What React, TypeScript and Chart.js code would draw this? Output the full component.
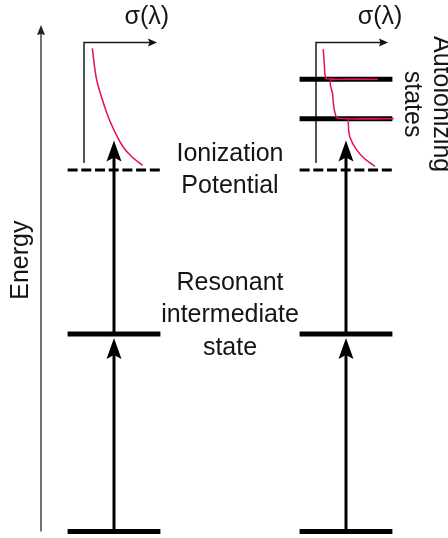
import { useEffect, useRef } from "react";
import { Chart, registerables } from "chart.js";

Chart.register(...registerables);

// ---------- data ----------
// Energy levels in arbitrary energy units (ground state = 0)
const groundEnergy = 0;
const resonantEnergy = 5.0;
const ionizationEnergy = 9.15;
const autoionizingEnergies = [10.45, 11.45];
// energy reached after the second photon
const ionizingPhotonEnergy = 9.9;
// top of the energy axis
const energyAxisTop = 12.82;

// the two excitation schemes: 0 = direct ionization, 1 = via autoionizing states
const schemeColumns = [0, 1];

// energy span of the σ(λ) inset axes
const sigmaAxisEnergy = [9.33, 12.38];

// direct photoionization cross section (σ normalised to the inset axis length)
const directSigma = [0.114, 0.174, 0.311, 0.411, 0.534, 0.658, 0.804];
const directEnergy = [12.23, 11.43, 10.6, 10.16, 9.74, 9.48, 9.27];

// cross section with autoionizing resonances
const resonanceSigma = [
  0.1, 0.115, 0.125, 0.15, 0.85, 0.21, 0.2, 0.23, 0.24, 0.26, 0.3, 1.07,
  0.46, 0.45, 0.47, 0.565, 0.68, 0.82,
];
const resonanceEnergy = [
  12.21, 11.85, 11.56, 11.46, 11.45, 11.44, 11.3, 11.09, 10.85, 10.63,
  10.46, 10.45, 10.44, 10.29, 9.99, 9.66, 9.43, 9.24,
];

// text
const sigmaLabel = ["σ(λ)"];
const ionizationLabel = ["Ionization", "Potential"];
const resonantLabel = ["Resonant", "intermediate", "state"];
const energyLabel = ["Energy"];
const autoionizingLabel = ["Autoionizing", "states"];

// ---------- layout & style ----------
const COLUMN_RANGE = { min: -0.4914, max: 1.4397 };
const ENERGY_RANGE = { min: -0.1646, max: 13.4557 };
const SIGMA_LEFT_RANGE = { min: -1.1507, max: 4.9863 };
const SIGMA_RIGHT_RANGE = { min: -4.3889, max: 1.8333 };
const LEVEL_HALF_WIDTH = 0.2;
const ENERGY_AXIS_COLUMN = -0.3147;

const FONT = '25px "Liberation Sans", Arial, sans-serif';
const TEXT_COLOR = "#151515";
const CURVE_COLOR = "#e3134f";

const bigHead = { length: 21, halfWidth: 7.5, notch: 4, inset: 0, color: "#000" };
const smallHead = { length: 9, halfWidth: 4, notch: 1.5, inset: 0, color: "#111" };

const labels = [
  { lines: sigmaLabel, scale: "sigL", x: 0.86, y: 13.03, rotation: 0, lineHeight: 32 },
  { lines: sigmaLabel, scale: "sigR", x: 0.89, y: 13.03, rotation: 0, lineHeight: 32 },
  { lines: ionizationLabel, scale: "x", x: 0.5, y: ionizationEnergy, rotation: 0, lineHeight: 32 },
  { lines: resonantLabel, scale: "x", x: 0.5, y: resonantEnergy + 0.47, rotation: 0, lineHeight: 32.5 },
  { lines: energyLabel, scale: "x", x: -0.401, y: 6.87, rotation: -90, lineHeight: 32 },
  { lines: autoionizingLabel, scale: "x", x: 1.347, y: 10.82, rotation: 90, lineHeight: 29 },
];

function levelLine(col: number, energy: number, extra: any = {}) {
  return {
    data: [
      { x: col - LEVEL_HALF_WIDTH, y: energy },
      { x: col + LEVEL_HALF_WIDTH, y: energy },
    ],
    borderColor: "#000",
    borderWidth: 5,
    order: 3,
    ...extra,
  };
}

function buildDatasets() {
  const sets: any[] = [];

  // energy axis
  sets.push({
    data: [
      { x: ENERGY_AXIS_COLUMN, y: groundEnergy },
      { x: ENERGY_AXIS_COLUMN, y: energyAxisTop },
    ],
    borderColor: "#444",
    borderWidth: 1.5,
    arrowHead: { length: 10, halfWidth: 4, notch: 1, inset: 0, color: "#222" },
    order: 4,
  });

  schemeColumns.forEach((col) => {
    sets.push(levelLine(col, groundEnergy));
    sets.push(levelLine(col, resonantEnergy));
    sets.push(levelLine(col, ionizationEnergy, { borderWidth: 3, borderDash: [10, 3.7] }));
    // first photon: ground -> resonant state
    sets.push({
      data: [
        { x: col, y: groundEnergy },
        { x: col, y: resonantEnergy },
      ],
      borderColor: "#000",
      borderWidth: 3,
      arrowHead: { ...bigHead, inset: 4 },
      order: 2,
    });
    // second photon: resonant state -> continuum
    sets.push({
      data: [
        { x: col, y: resonantEnergy },
        { x: col, y: ionizingPhotonEnergy },
      ],
      borderColor: "#000",
      borderWidth: 3,
      arrowHead: bigHead,
      order: 2,
    });
  });

  autoionizingEnergies.forEach((e) => sets.push(levelLine(schemeColumns[1], e)));

  // σ(λ) inset axes
  ["sigL", "sigR"].forEach((id) => {
    sets.push({
      xAxisID: id,
      data: [
        { x: 0, y: sigmaAxisEnergy[0] },
        { x: 0, y: sigmaAxisEnergy[1] },
        { x: 1, y: sigmaAxisEnergy[1] },
      ],
      borderColor: "#1a1a1a",
      borderWidth: 1.5,
      borderJoinStyle: "miter",
      arrowHead: smallHead,
      order: 4,
    });
  });

  // cross-section curves
  sets.push({
    xAxisID: "sigL",
    data: directSigma.map((s, i) => ({ x: s, y: directEnergy[i] })),
    borderColor: CURVE_COLOR,
    borderWidth: 1.5,
    tension: 0.3,
    order: 0,
  });
  sets.push({
    xAxisID: "sigR",
    data: resonanceSigma.map((s, i) => ({ x: s, y: resonanceEnergy[i] })),
    borderColor: CURVE_COLOR,
    borderWidth: 1.5,
    tension: 0.25,
    order: 0,
  });

  return sets.map((d) => ({
    showLine: true,
    fill: false,
    pointRadius: 0,
    borderCapStyle: "butt",
    ...d,
  }));
}

// geometry of an arrowhead at the last point of a dataset
function headFrame(chart: any, index: number) {
  const pts = chart.getDatasetMeta(index).data;
  if (!pts || pts.length < 2) return null;
  const a = pts[pts.length - 2];
  const b = pts[pts.length - 1];
  const ang = Math.atan2(b.y - a.y, b.x - a.x);
  return { x: b.x, y: b.y, ang };
}

const overlayPlugin = {
  id: "diagramOverlay",
  beforeDatasetDraw(chart: any, args: any) {
    const ds = chart.data.datasets[args.index];
    if (!ds.arrowHead) return;
    const f = headFrame(chart, args.index);
    if (!f) return;
    const { length, notch, inset } = ds.arrowHead;
    const ctx = chart.ctx;
    // hide the shaft where the head sits so the tip stays sharp
    const c = Math.cos(f.ang);
    const s = Math.sin(f.ang);
    const w = (ds.borderWidth || 1) + 2;
    const from = -inset - length + notch + 1;
    const to = 1;
    const corner = (u: number, v: number) => [f.x + u * c - v * s, f.y + u * s + v * c];
    const p = new Path2D();
    p.rect(0, 0, chart.width, chart.height);
    const q = [corner(from, -w), corner(to, -w), corner(to, w), corner(from, w)];
    p.moveTo(q[0][0], q[0][1]);
    q.slice(1).forEach((pt) => p.lineTo(pt[0], pt[1]));
    p.closePath();
    ctx.save();
    ctx.clip(p, "evenodd");
  },
  afterDatasetDraw(chart: any, args: any) {
    const ds = chart.data.datasets[args.index];
    if (!ds.arrowHead) return;
    const f = headFrame(chart, args.index);
    if (!f) return;
    const ctx = chart.ctx;
    ctx.restore();
    const { length, halfWidth, notch, inset, color } = ds.arrowHead;
    ctx.save();
    ctx.translate(f.x, f.y);
    ctx.rotate(f.ang);
    ctx.translate(-inset, 0);
    ctx.beginPath();
    ctx.moveTo(0, 0);
    ctx.lineTo(-length, -halfWidth);
    ctx.lineTo(-length + notch, 0);
    ctx.lineTo(-length, halfWidth);
    ctx.closePath();
    ctx.fillStyle = color;
    ctx.fill();
    ctx.restore();
  },
  afterDraw(chart: any) {
    const ctx = chart.ctx;
    ctx.save();
    ctx.font = FONT;
    ctx.fillStyle = TEXT_COLOR;
    ctx.textAlign = "center";
    ctx.textBaseline = "middle";
    labels.forEach((lab) => {
      const px = chart.scales[lab.scale].getPixelForValue(lab.x);
      const py = chart.scales.y.getPixelForValue(lab.y);
      ctx.save();
      ctx.translate(px, py);
      ctx.rotate((lab.rotation * Math.PI) / 180);
      const n = lab.lines.length;
      lab.lines.forEach((t, i) => ctx.fillText(t, 0, (i - (n - 1) / 2) * lab.lineHeight));
      ctx.restore();
    });
    ctx.restore();
  },
};

export default function App() {
  const canvasRef = useRef<HTMLCanvasElement | null>(null);

  useEffect(() => {
    const canvas = canvasRef.current;
    if (!canvas) return;
    const chart = new Chart(canvas, {
      type: "scatter",
      data: { datasets: buildDatasets() as any },
      options: {
        animation: false,
        responsive: false,
        devicePixelRatio: 1,
        events: [],
        layout: { padding: 0 },
        plugins: { legend: { display: false }, tooltip: { enabled: false } },
        scales: {
          x: { type: "linear", display: false, ...COLUMN_RANGE },
          y: { type: "linear", display: false, ...ENERGY_RANGE },
          sigL: { type: "linear", axis: "x", position: "bottom", display: false, ...SIGMA_LEFT_RANGE },
          sigR: { type: "linear", axis: "x", position: "bottom", display: false, ...SIGMA_RIGHT_RANGE },
        },
      } as any,
      plugins: [overlayPlugin as any],
    });
    return () => chart.destroy();
  }, []);

  return (
    <div style={{ position: "fixed", left: 0, top: 0, width: 448, height: 538, background: "#fff" }}>
      <canvas ref={canvasRef} width={448} height={538} style={{ display: "block" }} />
    </div>
  );
}
